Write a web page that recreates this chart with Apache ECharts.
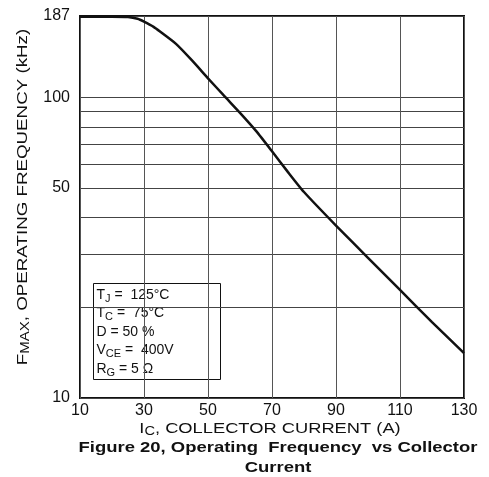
<!DOCTYPE html>
<html>
<head>
<meta charset="utf-8">
<script src="https://cdn.jsdelivr.net/npm/echarts@6/dist/echarts.min.js"></script>
<style>
  html, body { margin: 0; padding: 0; background: #fff; }
  #chart { width: 489px; height: 477px; }
</style>
</head>
<body>
<div id="chart"></div>
<script>
// Collector current (A) and max operating frequency (kHz)
const currentA = [10, 20, 25, 28, 30, 33, 35, 40, 45, 50, 55, 60, 65, 70, 75, 80, 90, 100, 110, 120, 130];
const freqKHz  = [186, 186, 185.5, 183, 179, 172, 166, 151, 133, 116, 101.5, 89, 77.5, 66.3, 56.5, 48.5, 37.5, 29.3, 22.9, 17.9, 14.1];

// Axis ticks, labels and grid lines
const xTicks = [10, 30, 50, 70, 90, 110, 130];
const yGrid = [10, 20, 30, 40, 50, 60, 70, 80, 90, 100, 187];
const yLabels = [10, 50, 100, 187];

// Test conditions
const conditions = [
  ['T', 'J', ' =  125°C'],
  ['T', 'C', ' =  75°C'],
  ['D = 50 %', '', ''],
  ['V', 'CE', ' =  400V'],
  ['R', 'G', ' = 5 Ω']
];

const FONT = 'Liberation Sans, Arial, Helvetica, sans-serif';

const chart = echarts.init(document.getElementById('chart'), null, { renderer: 'canvas' });

function sub(main, low, rest) {
  let s = '{n|' + main + '}';
  if (low) s += '{s|' + low + '}';
  if (rest) s += '{n|' + rest + '}';
  return s;
}

const condText = conditions.map(c => sub(c[0], c[1], c[2])).join('\n');

const nameRich = {
  n: { fontFamily: FONT, fontSize: 15, fill: '#111', lineHeight: 17 },
  s: { fontFamily: FONT, fontSize: 12, fill: '#111', lineHeight: 11, verticalAlign: 'bottom' }
};

const option = {
  animation: false,
  backgroundColor: '#fff',
  grid: {
    left: 80, right: 25, top: 16, bottom: 79,
    show: true, borderColor: '#111', borderWidth: 2, backgroundColor: 'transparent'
  },
  xAxis: {
    type: 'value',
    min: 10, max: 130,
    axisLine: { show: false },
    axisTick: { show: false, customValues: xTicks },
    axisLabel: { customValues: xTicks, fontFamily: FONT, fontSize: 16, color: '#111', margin: 5 },
    splitLine: { show: true, lineStyle: { color: '#555', width: 1 } }
  },
  yAxis: {
    type: 'log',
    logBase: 10,
    min: 10, max: 187,
    axisLine: { show: false },
    axisTick: { show: false, customValues: yGrid },
    axisLabel: { customValues: yLabels, fontFamily: FONT, fontSize: 16, color: '#111', margin: 10,
      formatter: v => String(Math.round(v)) },
    splitLine: { show: true, lineStyle: { color: '#444', width: 1 } }
  },
  series: [{
    type: 'line',
    data: currentA.map((x, i) => [x, freqKHz[i]]),
    smooth: 0.2,
    showSymbol: false,
    lineStyle: { color: '#111', width: 2.5 },
    z: 5
  }],
  graphic: [
    // y-axis title
    {
      type: 'text', x: 23, y: 197, rotation: Math.PI / 2, scaleX: 1.25, z: 10,
      style: {
        text: sub('F', 'MAX', ', OPERATING FREQUENCY (kHz)'),
        rich: nameRich, textAlign: 'center', textVerticalAlign: 'middle'
      }
    },
    // x-axis title
    {
      type: 'text', x: 270, y: 429, scaleX: 1.22, z: 10,
      style: {
        text: sub('I', 'C', ', COLLECTOR CURRENT (A)'),
        rich: nameRich, textAlign: 'center', textVerticalAlign: 'middle'
      }
    },
    // conditions box
    {
      type: 'group',
      left: 93, top: 283, z: 10,
      children: [
        { type: 'rect', shape: { x: 0, y: 0, width: 127, height: 96 },
          style: { fill: '#fff', stroke: '#111', lineWidth: 1 } },
        { type: 'text', x: 3, y: 2,
          style: {
            text: condText,
            rich: {
              n: { fontFamily: FONT, fontSize: 14, fill: '#111', lineHeight: 18.5 },
              s: { fontFamily: FONT, fontSize: 11, fill: '#111', lineHeight: 10, verticalAlign: 'bottom' }
            }
          } }
      ]
    },
    // figure caption
    {
      type: 'text', x: 278, y: 438, scaleX: 1.23, z: 10,
      style: {
        text: 'Figure 20, Operating  Frequency  vs Collector\nCurrent',
        fontFamily: FONT, fontSize: 15, fontWeight: 'bold', fill: '#111',
        textAlign: 'center', lineHeight: 20
      }
    }
  ]
};

chart.setOption(option);
</script>
</body>
</html>
